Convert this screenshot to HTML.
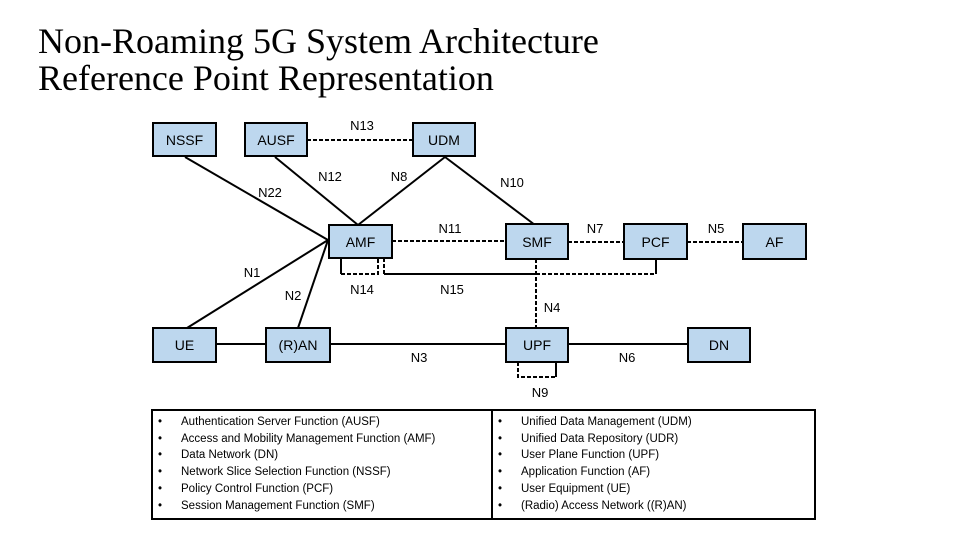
<!DOCTYPE html>
<html><head><meta charset="utf-8"><style>
html,body{margin:0;padding:0;background:#fff;}
body{width:960px;height:540px;position:relative;overflow:hidden;}
.t{position:absolute;left:38px;font-family:"Liberation Serif",serif;font-size:36px;line-height:38px;color:#000;white-space:nowrap;}
.lg{position:absolute;font-family:"Liberation Sans",sans-serif;font-size:11.5px;white-space:nowrap;line-height:16.7px;}
</style></head><body>
<div class="t" style="top:22px">Non-Roaming 5G System Architecture</div>
<div class="t" style="top:59px">Reference Point Representation</div>
<svg width="960" height="540" style="position:absolute;left:0;top:0" font-family="Liberation Sans, sans-serif" font-size="13">
<g stroke="#000" stroke-width="2" fill="none">
<line x1="185" y1="157" x2="328" y2="240"/>
<line x1="275" y1="157" x2="358" y2="225"/>
<line x1="445" y1="157" x2="358" y2="225"/>
<line x1="445" y1="157" x2="535" y2="225"/>
<line x1="187" y1="328" x2="328" y2="240"/>
<line x1="298" y1="328" x2="328" y2="240"/>
<line x1="216" y1="344" x2="266" y2="344"/>
<line x1="330" y1="344" x2="506" y2="344"/>
<line x1="568" y1="344" x2="688" y2="344"/>
<polyline points="341,258 341,274"/>
<polyline points="341,274 378,274 378,258" stroke-dasharray="4,2"/>
<polyline points="384,258 384,274" stroke-dasharray="4,2"/>
<polyline points="384,274 536,274"/>
<polyline points="536,274 656,274" stroke-dasharray="4,2"/>
<polyline points="656,274 656,259"/>
<line x1="536" y1="259" x2="536" y2="328" stroke-dasharray="4,2"/>
<line x1="307" y1="140" x2="413" y2="140" stroke-dasharray="4,2"/>
<line x1="392" y1="241" x2="506" y2="241" stroke-dasharray="4,2"/>
<line x1="568" y1="242" x2="624" y2="242" stroke-dasharray="4,2"/>
<line x1="687" y1="242" x2="743" y2="242" stroke-dasharray="4,2"/>
<polyline points="518,362 518,377 556,377" stroke-dasharray="4,2"/>
<polyline points="556,377 556,362"/>
</g>
<g fill="#bdd7ee" stroke="#000" stroke-width="2">
<rect x="153" y="123" width="63" height="33"/>
<rect x="245" y="123" width="62" height="33"/>
<rect x="413" y="123" width="62" height="33"/>
<rect x="329" y="225" width="63" height="33"/>
<rect x="506" y="224" width="62" height="35"/>
<rect x="624" y="224" width="63" height="35"/>
<rect x="743" y="224" width="63" height="35"/>
<rect x="153" y="328" width="63" height="34"/>
<rect x="266" y="328" width="64" height="34"/>
<rect x="506" y="328" width="62" height="34"/>
<rect x="688" y="328" width="62" height="34"/>
</g>
<g fill="#000" text-anchor="middle" font-size="14">
<text x="184.5" y="145">NSSF</text><text x="276" y="145">AUSF</text><text x="444" y="145">UDM</text>
<text x="360.5" y="247">AMF</text><text x="537" y="247">SMF</text><text x="655.5" y="247">PCF</text><text x="774.5" y="247">AF</text>
<text x="184.5" y="350">UE</text><text x="298" y="350">(R)AN</text><text x="537" y="350">UPF</text><text x="719" y="350">DN</text>
</g>
<g fill="#000" text-anchor="middle">
<text x="362" y="130">N13</text><text x="330" y="181">N12</text><text x="399" y="181">N8</text>
<text x="270" y="197">N22</text><text x="512" y="187">N10</text><text x="450" y="233">N11</text>
<text x="595" y="233">N7</text><text x="716" y="233">N5</text><text x="252" y="277">N1</text>
<text x="293" y="300">N2</text><text x="362" y="294">N14</text><text x="452" y="294">N15</text>
<text x="552" y="312">N4</text><text x="419" y="362">N3</text><text x="627" y="362">N6</text>
<text x="540" y="397">N9</text>
</g>
<rect x="152" y="410" width="663" height="109" fill="none" stroke="#000" stroke-width="2"/>
<line x1="492" y1="410" x2="492" y2="519" stroke="#000" stroke-width="2"/>
</svg>
<div class="lg" style="left:158px;top:414px">•<br>•<br>•<br>•<br>•<br>•</div>
<div class="lg" style="left:181px;top:414px">Authentication Server Function (AUSF)<br>Access and Mobility Management Function (AMF)<br>Data Network (DN)<br>Network Slice Selection Function (NSSF)<br>Policy Control Function (PCF)<br>Session Management Function (SMF)</div>
<div class="lg" style="left:498px;top:414px">•<br>•<br>•<br>•<br>•<br>•</div>
<div class="lg" style="left:521px;top:414px">Unified Data Management (UDM)<br>Unified Data Repository (UDR)<br>User Plane Function (UPF)<br>Application Function (AF)<br>User Equipment (UE)<br>(Radio) Access Network ((R)AN)</div>
</body></html>
